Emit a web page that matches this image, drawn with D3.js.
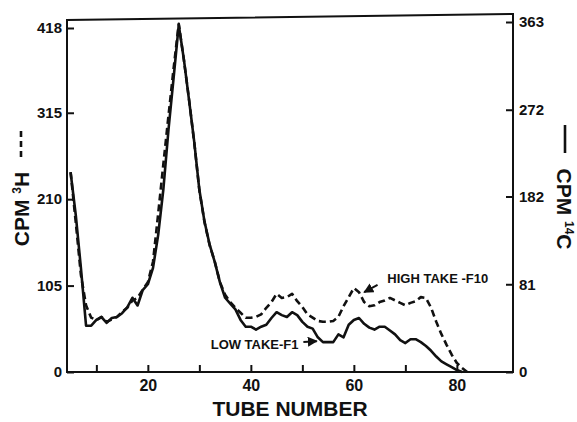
<!DOCTYPE html>
<html>
<head>
<meta charset="utf-8">
<script src="https://cdn.jsdelivr.net/npm/d3@7"></script>
<style>
  body { margin: 0; background: #fff; }
  text { font-family: "Liberation Sans", Arial, sans-serif; font-weight: bold; fill: #111; }
</style>
</head>
<body>
<div id="chart"></div>
<script>
// tube numbers, 3H counts (dashed, left axis) and 14C counts (solid, right axis)
const tubes = [5,6,7,8,9,10,11,12,13,14,15,16,17,18,19,20,21,22,23,24,25,26,27,28,29,30,
  31,32,33,34,35,36,37,38,39,40,41,42,43,44,45,46,47,48,49,50,51,52,53,54,55,56,57,58,59,60,
  61,62,63,64,65,66,67,68,69,70,71,72,73,74,75,76,77,78,79,80,81,82];

const h3Cpm = [243,182,118,81,66,63,67,61,64,67,73,78,87,90,100,109,134,192,252,311,369,423,379,331,279,221,
  182,154,134,109,94,85,78,72,66,66,67,70,78,85,95,90,91,95,86,79,70,66,62,61,61,62,67,80,91,102,
  97,85,80,81,85,87,90,87,84,81,84,86,91,90,78,61,46,33,21,11,5,0];

const c14Tubes = tubes.slice(0, 77); // 5 .. 81
const c14Cpm = [207,163,108,48,48,54,57,51,56,57,61,67,77,69,85,91,108,142,189,251,305,360,324,282,239,189,
  156,132,114,93,77,71,65,54,47,47,44,47,49,56,62,59,57,62,59,52,47,45,36,31,31,31,39,36,49,54,
  56,50,46,44,47,47,43,39,33,30,34,34,31,27,22,16,11,8,5,2,0];

const leftTicks = [0, 105, 210, 315, 418];
const rightTicks = [0, 91, 182, 272, 363];
const rightTickLabels = ["0", "81", "182", "272", "363"];
const xTicks = [10, 20, 30, 40, 50, 60, 70, 80];
const xTickLabels = { 20: "20", 40: "40", 60: "60", 80: "80" };

const width = 577, height = 422;
const left = 67, right = 513, bottom = 372;

const svg = d3.select("#chart").append("svg")
  .attr("width", width)
  .attr("height", height);

svg.append("rect").attr("width", width).attr("height", height).attr("fill", "#fff");

const x = d3.scaleLinear().domain([4.3, 90.9]).range([left, right]);
const yL = d3.scaleLinear().domain([0, 418]).range([bottom, 28]);
const yR = d3.scaleLinear().domain([0, 363]).range([bottom, 22]);

// frame (top edge is a bit tilted in the scan)
const frame = svg.append("g").attr("stroke", "#111").attr("stroke-width", 2).attr("fill", "none");
frame.append("path").attr("d", `M${left},373 L${left},20 L${right},14 L${right},373`);
frame.append("line").attr("x1", left - 1).attr("x2", right + 1).attr("y1", bottom).attr("y2", bottom);

// axes, ticks pointing inward
const axL = svg.append("g").attr("transform", `translate(${left},0)`)
  .call(d3.axisLeft(yL).tickValues(leftTicks).tickSize(-7).tickPadding(5).tickFormat(d3.format("d")));
const axR = svg.append("g").attr("transform", `translate(${right},0)`)
  .call(d3.axisRight(yR).tickValues(rightTicks).tickSize(-7).tickPadding(6)
    .tickFormat((d, i) => rightTickLabels[i]));
const axB = svg.append("g").attr("transform", `translate(0,${bottom})`)
  .call(d3.axisBottom(x).tickValues(xTicks).tickSize(-7).tickPadding(8)
    .tickFormat(d => xTickLabels[d] || ""));

[axL, axR, axB].forEach(a => {
  a.select(".domain").remove();
  a.selectAll(".tick line").attr("stroke", "#111").attr("stroke-width", 2);
  a.selectAll("text").attr("font-family", null).attr("font-size", 15).attr("fill", "#111");
});
axB.selectAll("text").attr("font-size", 16);

// curves
const lineH = d3.line().x((d, i) => x(tubes[i])).y(d => yL(d));
const lineC = d3.line().x((d, i) => x(c14Tubes[i])).y(d => yR(d));

svg.append("path").datum(h3Cpm)
  .attr("d", lineH)
  .attr("fill", "none").attr("stroke", "#111").attr("stroke-width", 2.6)
  .attr("stroke-dasharray", "7,4").attr("stroke-linejoin", "round");

svg.append("path").datum(c14Cpm)
  .attr("d", lineC)
  .attr("fill", "none").attr("stroke", "#111").attr("stroke-width", 2.6)
  .attr("stroke-linejoin", "round");

// arrow marker
svg.append("defs").append("marker")
  .attr("id", "arr").attr("viewBox", "0 0 10 10").attr("refX", 9).attr("refY", 5)
  .attr("markerWidth", 5).attr("markerHeight", 5).attr("orient", "auto")
  .append("path").attr("d", "M0,0 L10,5 L0,10 z").attr("fill", "#111");

// annotations
svg.append("text").attr("x", x(66.5)).attr("y", yL(108)).attr("font-size", 13).text("HIGH TAKE -F10");
svg.append("line")
  .attr("x1", x(64.6)).attr("y1", yL(106)).attr("x2", x(62)).attr("y2", yL(97))
  .attr("stroke", "#111").attr("stroke-width", 2).attr("marker-end", "url(#arr)");

svg.append("text").attr("x", x(32.2)).attr("y", yR(24)).attr("font-size", 13).text("LOW TAKE-F1");
svg.append("line")
  .attr("x1", x(50.2)).attr("y1", yR(31)).attr("x2", x(52.8)).attr("y2", yR(32))
  .attr("stroke", "#111").attr("stroke-width", 2).attr("marker-end", "url(#arr)");

// axis titles
svg.append("text").attr("x", 290).attr("y", 416).attr("text-anchor", "middle")
  .attr("font-size", 21).text("TUBE NUMBER");

const tl = svg.append("text").attr("transform", "translate(29,209) rotate(-90)")
  .attr("text-anchor", "middle").attr("font-size", 21);
tl.append("tspan").text("CPM ");
tl.append("tspan").attr("font-size", 12).attr("dy", -8).text("3");
tl.append("tspan").attr("dy", 8).text("H");
svg.append("line").attr("x1", 21).attr("x2", 21).attr("y1", 157).attr("y2", 127)
  .attr("stroke", "#111").attr("stroke-width", 2.6).attr("stroke-dasharray", "6,4");

const tr = svg.append("text").attr("transform", "translate(557,209) rotate(90)")
  .attr("text-anchor", "middle").attr("font-size", 21);
tr.append("tspan").text("CPM ");
tr.append("tspan").attr("font-size", 12).attr("dy", -8).text("14");
tr.append("tspan").attr("dy", 8).text("C");
svg.append("line").attr("x1", 565).attr("x2", 565).attr("y1", 125).attr("y2", 153)
  .attr("stroke", "#111").attr("stroke-width", 2.6);
</script>
</body>
</html>
